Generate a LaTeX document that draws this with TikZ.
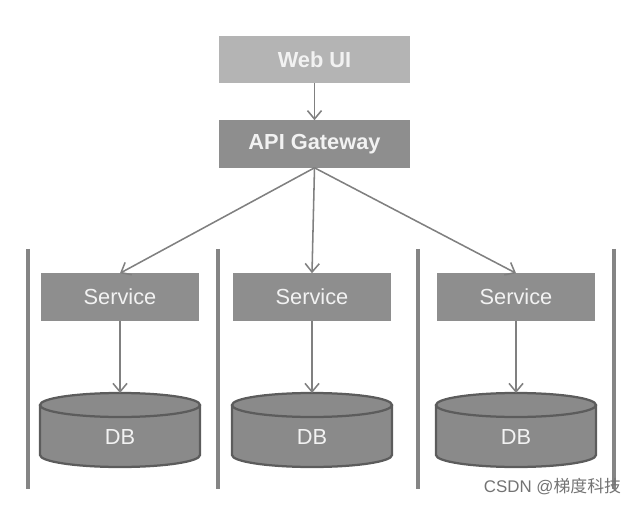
\documentclass[tikz,border=0pt]{standalone}
\usepackage{fontspec}
\setmainfont{Liberation Sans}
\newfontfamily\cjk{Noto Sans CJK SC}
\usetikzlibrary{arrows.meta}
\definecolor{lightbox}{HTML}{B4B4B4}
\definecolor{darkbox}{HTML}{8E8E8E}
\definecolor{dbgray}{HTML}{8A8A8A}
\definecolor{dbedge}{HTML}{5C5C5C}
\definecolor{linegray}{HTML}{808080}
\definecolor{bargray}{HTML}{858585}
\tikzset{
    box/.style={fill=#1,text=white!95!black,inner sep=0pt,minimum height=1.175cm,
        font=\fontsize{15.5}{18}\selectfont},
    link/.style={draw=linegray,line width=1.1pt,-{Straight Barb[length=6pt,width=10pt]}},
    dbshape/.style={fill=dbgray,draw=dbedge,line width=1.6pt},
    bar/.style={draw=bargray,line width=3.2pt}
}
\begin{document}
\begin{tikzpicture}[x=0.025cm,y=-0.025cm]
    \useasboundingbox (0,0) rectangle (632,505);
    \foreach \x in {28,218,418,614}
    \draw[bar] (\x,249)--(\x,489);
    \node[box=lightbox,minimum width=4.775cm,font=\fontsize{15.5}{18}\selectfont\bfseries] (web) at (314.5,59.5) {Web UI};
    \node[box=darkbox,minimum width=4.775cm,font=\fontsize{15.5}{18}\selectfont\bfseries] (gw) at (314.5,144) {API Gateway};
    \draw[link] (web)--(gw);
    \foreach \x/\n in {120/1,312/2,516/3} {
        \node[box=darkbox,minimum width=3.925cm] (svc\n) at (\x,297) {Service};
        \filldraw[dbshape] (\x-80,405)--(\x-80,455) arc[start angle=180,end angle=0,x radius=80,y radius=12]--(\x+80,405);
        \filldraw[dbshape] (\x,405) ellipse[x radius=80,y radius=12];
        \coordinate (dbtop\n) at (\x,393);
        \node[text=white!95!black,font=\fontsize{15.5}{18}\selectfont] (db\n) at (\x,437) {DB};
        \draw[link] (gw.south)--(svc\n.north);
        \draw[link] (svc\n.south)--(dbtop\n);
    }
    \node[text=black!55,anchor=east,font=\fontsize{12}{14}\selectfont] (mark) at (626,487) {CSDN @{\cjk 梯度科技}};
\end{tikzpicture}
\end{document}
